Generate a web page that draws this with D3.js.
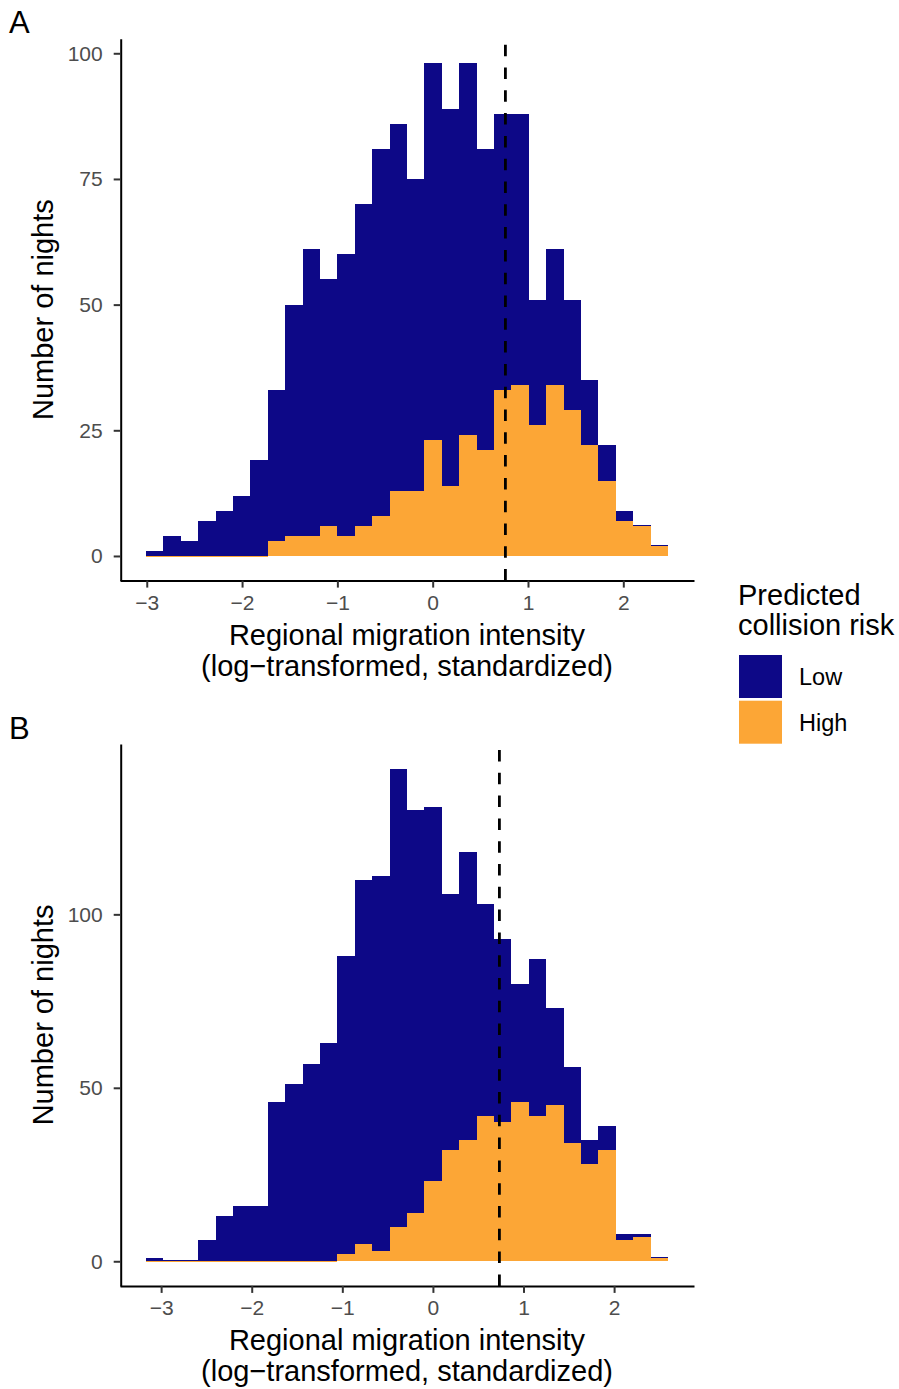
<!DOCTYPE html>
<html>
<head>
<meta charset="utf-8">
<script src="https://cdn.jsdelivr.net/npm/d3@7"></script>
<style>
  html, body { margin: 0; padding: 0; background: #ffffff; }
  svg { display: block; }
  text { font-family: "Liberation Sans", Arial, Helvetica, sans-serif; }
</style>
</head>
<body>
<script>
// Histogram of nightly regional migration intensity, split by predicted collision risk.
// 30 equal-width bins per panel; "low" nights are stacked on top of "high" nights.

// Panel A
const binStartA = -3.007;
const binWidthA = 0.1825;
const lowA  = [1, 4, 3, 7, 9, 12, 19, 30, 46, 57, 49, 56, 64, 73, 73, 62, 75, 75, 74, 60, 55, 54, 25, 27, 22, 13, 7, 2, 0, 0];
const highA = [0, 0, 0, 0, 0, 0, 0, 3, 4, 4, 6, 4, 6, 8, 13, 13, 23, 14, 24, 21, 33, 34, 26, 34, 29, 22, 15, 7, 6, 2];
const cutoffA = 0.763;
const yTicksA = [0, 25, 50, 75, 100];

// Panel B
const binStartB = -3.166;
const binWidthB = 0.192;
const lowB  = [1, 0, 0, 6, 13, 16, 16, 46, 51, 57, 63, 86, 105, 108, 132, 116, 108, 74, 83, 61, 53, 34, 45, 28, 22, 7, 7, 2, 1, 0];
const highB = [0, 0, 0, 0, 0, 0, 0, 0, 0, 0, 0, 2, 5, 3, 10, 14, 23, 32, 35, 42, 40, 46, 42, 45, 34, 28, 32, 6, 7, 1];
const cutoffB = 0.734;
const yTicksB = [0, 50, 100];

const xTicks = [-3, -2, -1, 0, 1, 2];
const riskLevels = ["Low", "High"];
const riskColors = ["#0d0887", "#fca636"];
const xTitleLines = ["Regional migration intensity", "(log\u2212transformed, standardized)"];
const yTitle = "Number of nights";
const legendTitleLines = ["Predicted", "collision risk"];

const W = 899, H = 1389;
const plotLeft = 120, plotRight = 694, plotHeight = 541.9;
const fontStack = '"Liberation Sans", Arial, Helvetica, sans-serif';

const svg = d3.select("body").append("svg")
  .attr("width", W).attr("height", H)
  .attr("viewBox", `0 0 ${W} ${H}`);

const color = d3.scaleOrdinal().domain(riskLevels).range(riskColors);
const intFmt = d3.format("d");

function drawPanel(opts) {
  const { top, lows, highs, binStart, binWidth, cutoff, yTicks, tag } = opts;
  const n = lows.length;
  const binEnd = binStart + n * binWidth;
  const xPad = 0.05 * (binEnd - binStart);
  const bottom = top + plotHeight;

  const x = d3.scaleLinear()
    .domain([binStart - xPad, binEnd + xPad])
    .range([plotLeft, plotRight]);

  const rows = lows.map((l, i) => ({
    x0: binStart + i * binWidth,
    x1: binStart + (i + 1) * binWidth,
    low: l,
    high: highs[i]
  }));
  const maxCount = d3.max(rows, d => d.low + d.high);
  const y = d3.scaleLinear()
    .domain([-0.05 * maxCount, 1.05 * maxCount])
    .range([bottom, top]);

  const stacked = d3.stack().keys(["high", "low"])(rows);
  const byKey = { high: stacked[0], low: stacked[1] };

  const g = svg.append("g");

  // "Low" drawn first, "High" over it
  [["low", "Low"], ["high", "High"]].forEach(([key, level]) => {
    g.append("g")
      .attr("fill", color(level))
      .attr("shape-rendering", "crispEdges")
      .selectAll("rect")
      .data(byKey[key])
      .join("rect")
      .attr("x", d => x(d.data.x0))
      .attr("width", d => x(d.data.x1) - x(d.data.x0))
      .attr("y", d => {
        const h = y(d[0]) - y(d[1]);
        if (h >= 1) return y(d[1]);
        return key === "high" ? y(d[0]) : y(d[1]) - 1;
      })
      .attr("height", d => Math.max(1, y(d[0]) - y(d[1])));
  });

  // threshold
  g.append("line")
    .attr("x1", x(cutoff)).attr("x2", x(cutoff))
    .attr("y1", bottom).attr("y2", top)
    .attr("stroke", "#000")
    .attr("stroke-width", 2.8)
    .attr("stroke-dasharray", "11.5,11.3");

  // axes
  const xAxis = g.append("g")
    .attr("transform", `translate(0,${bottom})`)
    .call(d3.axisBottom(x).tickValues(xTicks).tickFormat(intFmt)
      .tickSize(7).tickSizeOuter(0).tickPadding(7));
  const yAxis = g.append("g")
    .attr("transform", `translate(${plotLeft + 0.7},0)`)
    .call(d3.axisLeft(y).tickValues(yTicks).tickFormat(intFmt)
      .tickSize(7).tickSizeOuter(0).tickPadding(11));

  [xAxis, yAxis].forEach(ax => {
    ax.select(".domain").attr("stroke", "#000").attr("stroke-width", 2);
    ax.selectAll(".tick line").attr("stroke", "#333333").attr("stroke-width", 2);
    ax.selectAll(".tick text")
      .attr("fill", "#4d4d4d")
      .style("font-size", "21px")
      .style("font-family", fontStack);
  });

  // x title (two lines)
  const cx = (plotLeft + plotRight) / 2;
  xTitleLines.forEach((t, i) => {
    g.append("text")
      .attr("x", cx)
      .attr("y", bottom + 64.5 + i * 31)
      .attr("text-anchor", "middle")
      .style("font-size", "29px")
      .attr("fill", "#000")
      .text(t);
  });

  // y title
  g.append("text")
    .attr("transform", `translate(53.3,${(top + bottom) / 2}) rotate(-90)`)
    .attr("text-anchor", "middle")
    .style("font-size", "29px")
    .attr("fill", "#000")
    .text(yTitle);

  // panel tag
  g.append("text")
    .attr("x", 9)
    .attr("y", top - 5.5)
    .style("font-size", "31px")
    .attr("fill", "#000")
    .text(tag);
}

drawPanel({ top: 38.7, lows: lowA, highs: highA, binStart: binStartA, binWidth: binWidthA,
            cutoff: cutoffA, yTicks: yTicksA, tag: "A" });
drawPanel({ top: 744, lows: lowB, highs: highB, binStart: binStartB, binWidth: binWidthB,
            cutoff: cutoffB, yTicks: yTicksB, tag: "B" });

// legend
const legend = svg.append("g");
legendTitleLines.forEach((t, i) => {
  legend.append("text")
    .attr("x", 738)
    .attr("y", 605 + i * 30)
    .style("font-size", "29px")
    .attr("fill", "#000")
    .text(t);
});
riskLevels.forEach((lvl, i) => {
  legend.append("rect")
    .attr("x", 739).attr("y", 655 + i * 45.7)
    .attr("width", 43).attr("height", 43)
    .attr("fill", color(lvl));
  legend.append("text")
    .attr("x", 799)
    .attr("y", 685 + i * 45.7)
    .style("font-size", "23.5px")
    .attr("fill", "#000")
    .text(lvl);
});
</script>
</body>
</html>
